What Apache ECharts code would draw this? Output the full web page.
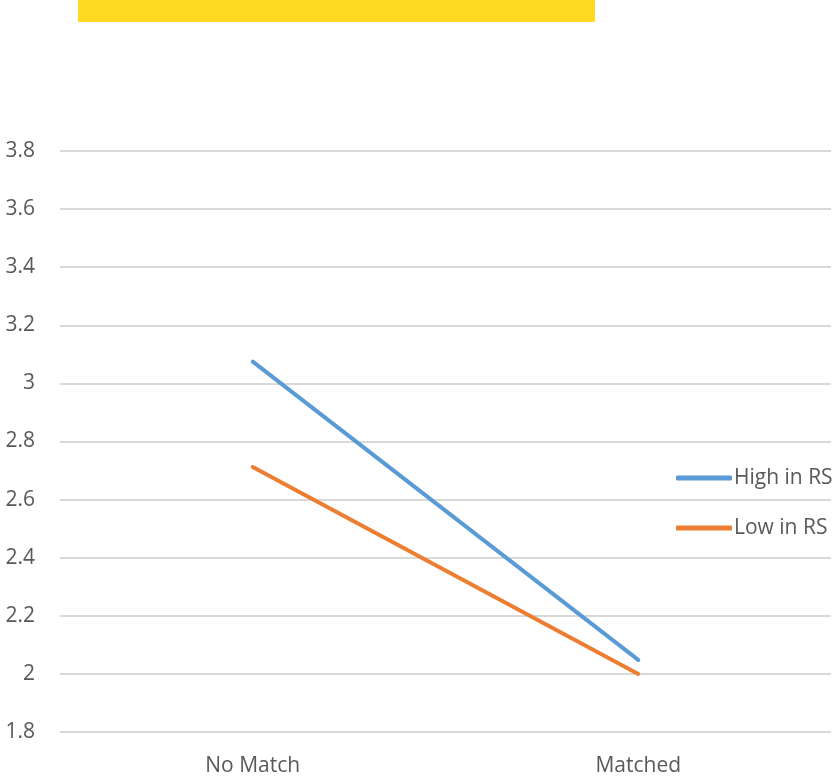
<!DOCTYPE html>
<html>
<head>
<meta charset="utf-8">
<script src="https://cdn.jsdelivr.net/npm/echarts@6/dist/echarts.min.js"></script>
<style>
  html, body { margin: 0; padding: 0; background: #fff; }
  #chart { width: 834px; height: 779px; }
</style>
</head>
<body>
<div id="chart"></div>
<script>
// values
var categories = ['No Match', 'Matched'];
var seriesNames = ['High in RS', 'Low in RS'];
var highValues = [3.075, 2.048];
var lowValues = [2.712, 2.0];
var colors = ['#5B9BD5', '#ED7D31'];

var makeLine = function (name, data, color) {
    return {
        name: name,
        type: 'line',
        data: data,
        symbol: 'none',
        showSymbol: false,
        lineStyle: { color: color, width: 4, cap: 'round' },
        itemStyle: { color: color }
    };
};

var option = {
    animation: false,
    backgroundColor: '#ffffff',
    textStyle: { fontFamily: 'Open Sans' },
    graphic: [{
        type: 'rect',
        left: 78,
        top: 0,
        shape: { width: 517, height: 22 },
        style: { fill: '#FFD923' }
    }],
    grid: { left: 60, right: 3, top: 151, bottom: 47 },
    legend: {
        orient: 'vertical',
        left: 676,
        top: 465,
        padding: 0,
        itemGap: 24,
        itemWidth: 56,
        itemHeight: 5,
        icon: 'roundRect',
        data: seriesNames,
        textStyle: { color: '#595959', fontSize: 21, lineHeight: 26, padding: [0, 0, 0, -3] }
    },
    xAxis: {
        type: 'category',
        data: categories,
        boundaryGap: true,
        axisLine: { show: false },
        axisTick: { show: false },
        axisLabel: { color: '#595959', fontSize: 21, margin: 24 }
    },
    yAxis: {
        type: 'value',
        min: 1.8,
        max: 3.8,
        interval: 0.2,
        axisLine: { show: false },
        axisTick: { show: false },
        axisLabel: { color: '#595959', fontSize: 21, margin: 25 },
        splitLine: { lineStyle: { color: '#d9d9d9', width: 2 } }
    },
    series: [
        makeLine(seriesNames[0], highValues, colors[0]),
        makeLine(seriesNames[1], lowValues, colors[1])
    ]
};

var myChart = echarts.init(document.getElementById('chart'));
myChart.setOption(option);
</script>
</body>
</html>
